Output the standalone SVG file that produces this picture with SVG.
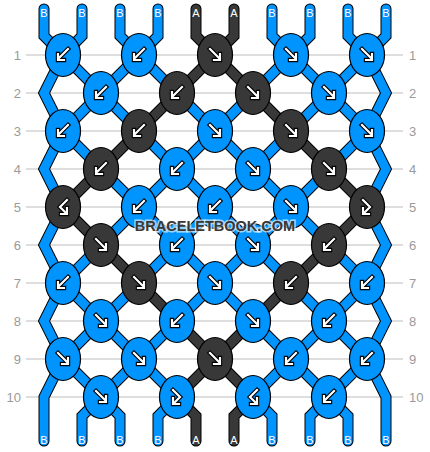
<svg xmlns="http://www.w3.org/2000/svg" xmlns:xlink="http://www.w3.org/1999/xlink" width="430" height="452" viewBox="0 0 430 452">
<style>
.grid line{stroke:#bdbdbd;stroke-width:1}
.rl{font-family:"Liberation Sans",Arial,sans-serif;font-size:13px;fill:#9a9a9a}
.o{fill:none;stroke:#000;stroke-width:11;stroke-linejoin:miter;stroke-linecap:round}
.cb{fill:none;stroke:#0094ff;stroke-width:9;stroke-linejoin:miter;stroke-linecap:round}
.ca{fill:none;stroke:#383838;stroke-width:9;stroke-linejoin:miter;stroke-linecap:round}
.kb{fill:#0094ff;stroke:#000;stroke-width:1.2}
.ka{fill:#383838;stroke:#000;stroke-width:1.2}
.ao{fill:none;stroke:#000;stroke-width:4.4;stroke-linecap:square;stroke-linejoin:miter}
.ai{fill:none;stroke:#fff;stroke-width:2.2;stroke-linecap:square;stroke-linejoin:miter}
.sl{font-family:"Liberation Sans",Arial,sans-serif;font-size:11px;fill:#fff;text-anchor:middle}
.wm{font-family:"Liberation Sans",Arial,sans-serif;font-size:14.5px;font-weight:bold;fill:#383838;text-anchor:middle;stroke:#fff;stroke-opacity:0.65;stroke-width:3;paint-order:stroke}
</style>
<defs>
<path id="s0" d="M44,9 L44,36 L63,55 L101,93 L139,131 L177,169 L215,207 L253,245 L291,283 L329,321 L367,359 L386,397 L386,441"/>
<path id="s1" d="M82,9 L82,36 L63,55 L44,93 L63,131 L101,169 L139,207 L177,245 L215,283 L253,321 L291,359 L329,397 L348,416 L348,441"/>
<path id="s2" d="M120,9 L120,36 L139,55 L177,93 L215,131 L253,169 L291,207 L329,245 L367,283 L386,321 L367,359 L329,397 L310,416 L310,441"/>
<path id="s3" d="M158,9 L158,36 L139,55 L101,93 L63,131 L44,169 L63,207 L44,245 L63,283 L101,321 L139,359 L177,397 L158,416 L158,441"/>
<path id="s4" d="M196,9 L196,36 L215,55 L253,93 L291,131 L329,169 L367,207 L329,245 L291,283 L253,321 L215,359 L177,397 L196,416 L196,441"/>
<path id="s5" d="M234,9 L234,36 L215,55 L177,93 L139,131 L101,169 L63,207 L101,245 L139,283 L177,321 L215,359 L253,397 L234,416 L234,441"/>
<path id="s6" d="M272,9 L272,36 L291,55 L329,93 L367,131 L386,169 L367,207 L386,245 L367,283 L329,321 L291,359 L253,397 L272,416 L272,441"/>
<path id="s7" d="M310,9 L310,36 L291,55 L253,93 L215,131 L177,169 L139,207 L101,245 L63,283 L44,321 L63,359 L101,397 L120,416 L120,441"/>
<path id="s8" d="M348,9 L348,36 L367,55 L386,93 L367,131 L329,169 L291,207 L253,245 L215,283 L177,321 L139,359 L101,397 L82,416 L82,441"/>
<path id="s9" d="M386,9 L386,36 L367,55 L329,93 L291,131 L253,169 L215,207 L177,245 L139,283 L101,321 L63,359 L44,397 L44,441"/>
<g id="sw"><path class="ao" d="M5,-6 L-4,3 M-5,-1 L-5,5 L1,5"/><path class="ai" d="M5,-6 L-4,3 M-5,-1 L-5,5 L1,5"/></g>
<g id="se"><path class="ao" d="M-5,-6 L4,3 M5,-1 L5,5 L-1,5"/><path class="ai" d="M-5,-6 L4,3 M5,-1 L5,5 L-1,5"/></g>
<g id="fb"><path class="ao" d="M-4,-7 L3,0 L-3,6 M-4,1 L-4,7 L2,7"/><path class="ai" d="M-4,-7 L3,0 L-3,6 M-4,1 L-4,7 L2,7"/></g>
<g id="bf"><path class="ao" d="M4,-7 L-3,0 L3,6 M4,1 L4,7 L-2,7"/><path class="ai" d="M4,-7 L-3,0 L3,6 M4,1 L4,7 L-2,7"/></g>
</defs>
<rect width="430" height="452" fill="#fff"/>
<g class="grid">
<line x1="26" y1="55" x2="403" y2="55"/><line x1="26" y1="93" x2="403" y2="93"/><line x1="26" y1="131" x2="403" y2="131"/><line x1="26" y1="169" x2="403" y2="169"/><line x1="26" y1="207" x2="403" y2="207"/><line x1="26" y1="245" x2="403" y2="245"/><line x1="26" y1="283" x2="403" y2="283"/><line x1="26" y1="321" x2="403" y2="321"/><line x1="26" y1="359" x2="403" y2="359"/><line x1="26" y1="397" x2="403" y2="397"/>
</g>
<g id="row-labels" class="rl">
<g text-anchor="end">
<text x="21" y="60">1</text><text x="21" y="98">2</text><text x="21" y="136">3</text><text x="21" y="174">4</text><text x="21" y="212">5</text><text x="21" y="250">6</text><text x="21" y="288">7</text><text x="21" y="326">8</text><text x="21" y="364">9</text><text x="21" y="402">10</text>
</g>
<g text-anchor="start">
<text x="409" y="60">1</text><text x="409" y="98">2</text><text x="409" y="136">3</text><text x="409" y="174">4</text><text x="409" y="212">5</text><text x="409" y="250">6</text><text x="409" y="288">7</text><text x="409" y="326">8</text><text x="409" y="364">9</text><text x="409" y="402">10</text>
</g>
</g>
<g id="connectors">
<use href="#s0" class="o"/><use href="#s1" class="o"/><use href="#s2" class="o"/><use href="#s3" class="o"/><use href="#s4" class="o"/><use href="#s5" class="o"/><use href="#s6" class="o"/><use href="#s7" class="o"/><use href="#s8" class="o"/><use href="#s9" class="o"/>
<use href="#s0" class="cb"/><use href="#s1" class="cb"/><use href="#s2" class="cb"/><use href="#s3" class="cb"/><use href="#s4" class="ca"/><use href="#s5" class="ca"/><use href="#s6" class="cb"/><use href="#s7" class="cb"/><use href="#s8" class="cb"/><use href="#s9" class="cb"/>
</g>
<g id="knots">
<g id="k1-1" transform="translate(63,55)"><ellipse class="kb" rx="17.5" ry="21.5"/><use href="#sw"/></g>
<g id="k1-2" transform="translate(139,55)"><ellipse class="kb" rx="17.5" ry="21.5"/><use href="#sw"/></g>
<g id="k1-3" transform="translate(215,55)"><ellipse class="ka" rx="17.5" ry="21.5"/><use href="#se"/></g>
<g id="k1-4" transform="translate(291,55)"><ellipse class="kb" rx="17.5" ry="21.5"/><use href="#se"/></g>
<g id="k1-5" transform="translate(367,55)"><ellipse class="kb" rx="17.5" ry="21.5"/><use href="#se"/></g>
<g id="k2-1" transform="translate(101,93)"><ellipse class="kb" rx="17.5" ry="21.5"/><use href="#sw"/></g>
<g id="k2-2" transform="translate(177,93)"><ellipse class="ka" rx="17.5" ry="21.5"/><use href="#sw"/></g>
<g id="k2-3" transform="translate(253,93)"><ellipse class="ka" rx="17.5" ry="21.5"/><use href="#se"/></g>
<g id="k2-4" transform="translate(329,93)"><ellipse class="kb" rx="17.5" ry="21.5"/><use href="#se"/></g>
<g id="k3-1" transform="translate(63,131)"><ellipse class="kb" rx="17.5" ry="21.5"/><use href="#sw"/></g>
<g id="k3-2" transform="translate(139,131)"><ellipse class="ka" rx="17.5" ry="21.5"/><use href="#sw"/></g>
<g id="k3-3" transform="translate(215,131)"><ellipse class="kb" rx="17.5" ry="21.5"/><use href="#se"/></g>
<g id="k3-4" transform="translate(291,131)"><ellipse class="ka" rx="17.5" ry="21.5"/><use href="#se"/></g>
<g id="k3-5" transform="translate(367,131)"><ellipse class="kb" rx="17.5" ry="21.5"/><use href="#se"/></g>
<g id="k4-1" transform="translate(101,169)"><ellipse class="ka" rx="17.5" ry="21.5"/><use href="#sw"/></g>
<g id="k4-2" transform="translate(177,169)"><ellipse class="kb" rx="17.5" ry="21.5"/><use href="#sw"/></g>
<g id="k4-3" transform="translate(253,169)"><ellipse class="kb" rx="17.5" ry="21.5"/><use href="#se"/></g>
<g id="k4-4" transform="translate(329,169)"><ellipse class="ka" rx="17.5" ry="21.5"/><use href="#se"/></g>
<g id="k5-1" transform="translate(63,207)"><ellipse class="ka" rx="17.5" ry="21.5"/><use href="#bf"/></g>
<g id="k5-2" transform="translate(139,207)"><ellipse class="kb" rx="17.5" ry="21.5"/><use href="#sw"/></g>
<g id="k5-3" transform="translate(215,207)"><ellipse class="kb" rx="17.5" ry="21.5"/><use href="#sw"/></g>
<g id="k5-4" transform="translate(291,207)"><ellipse class="kb" rx="17.5" ry="21.5"/><use href="#se"/></g>
<g id="k5-5" transform="translate(367,207)"><ellipse class="ka" rx="17.5" ry="21.5"/><use href="#fb"/></g>
<g id="k6-1" transform="translate(101,245)"><ellipse class="ka" rx="17.5" ry="21.5"/><use href="#se"/></g>
<g id="k6-2" transform="translate(177,245)"><ellipse class="kb" rx="17.5" ry="21.5"/><use href="#sw"/></g>
<g id="k6-3" transform="translate(253,245)"><ellipse class="kb" rx="17.5" ry="21.5"/><use href="#se"/></g>
<g id="k6-4" transform="translate(329,245)"><ellipse class="ka" rx="17.5" ry="21.5"/><use href="#sw"/></g>
<g id="k7-1" transform="translate(63,283)"><ellipse class="kb" rx="17.5" ry="21.5"/><use href="#sw"/></g>
<g id="k7-2" transform="translate(139,283)"><ellipse class="ka" rx="17.5" ry="21.5"/><use href="#se"/></g>
<g id="k7-3" transform="translate(215,283)"><ellipse class="kb" rx="17.5" ry="21.5"/><use href="#se"/></g>
<g id="k7-4" transform="translate(291,283)"><ellipse class="ka" rx="17.5" ry="21.5"/><use href="#sw"/></g>
<g id="k7-5" transform="translate(367,283)"><ellipse class="kb" rx="17.5" ry="21.5"/><use href="#sw"/></g>
<g id="k8-1" transform="translate(101,321)"><ellipse class="kb" rx="17.5" ry="21.5"/><use href="#se"/></g>
<g id="k8-2" transform="translate(177,321)"><ellipse class="kb" rx="17.5" ry="21.5"/><use href="#sw"/></g>
<g id="k8-3" transform="translate(253,321)"><ellipse class="kb" rx="17.5" ry="21.5"/><use href="#se"/></g>
<g id="k8-4" transform="translate(329,321)"><ellipse class="kb" rx="17.5" ry="21.5"/><use href="#sw"/></g>
<g id="k9-1" transform="translate(63,359)"><ellipse class="kb" rx="17.5" ry="21.5"/><use href="#se"/></g>
<g id="k9-2" transform="translate(139,359)"><ellipse class="kb" rx="17.5" ry="21.5"/><use href="#se"/></g>
<g id="k9-3" transform="translate(215,359)"><ellipse class="ka" rx="17.5" ry="21.5"/><use href="#se"/></g>
<g id="k9-4" transform="translate(291,359)"><ellipse class="kb" rx="17.5" ry="21.5"/><use href="#sw"/></g>
<g id="k9-5" transform="translate(367,359)"><ellipse class="kb" rx="17.5" ry="21.5"/><use href="#sw"/></g>
<g id="k10-1" transform="translate(101,397)"><ellipse class="kb" rx="17.5" ry="21.5"/><use href="#se"/></g>
<g id="k10-2" transform="translate(177,397)"><ellipse class="kb" rx="17.5" ry="21.5"/><use href="#fb"/></g>
<g id="k10-3" transform="translate(253,397)"><ellipse class="kb" rx="17.5" ry="21.5"/><use href="#bf"/></g>
<g id="k10-4" transform="translate(329,397)"><ellipse class="kb" rx="17.5" ry="21.5"/><use href="#sw"/></g>
</g>
<g id="strand-labels" class="sl">
<text x="44" y="17">B</text><text x="82" y="17">B</text><text x="120" y="17">B</text><text x="158" y="17">B</text><text x="196" y="17">A</text><text x="234" y="17">A</text><text x="272" y="17">B</text><text x="310" y="17">B</text><text x="348" y="17">B</text><text x="386" y="17">B</text>
<text x="44" y="444">B</text><text x="82" y="444">B</text><text x="120" y="444">B</text><text x="158" y="444">B</text><text x="196" y="444">A</text><text x="234" y="444">A</text><text x="272" y="444">B</text><text x="310" y="444">B</text><text x="348" y="444">B</text><text x="386" y="444">B</text>
</g>
<text class="wm" x="215" y="231">BRACELETBOOK.COM</text>
</svg>
